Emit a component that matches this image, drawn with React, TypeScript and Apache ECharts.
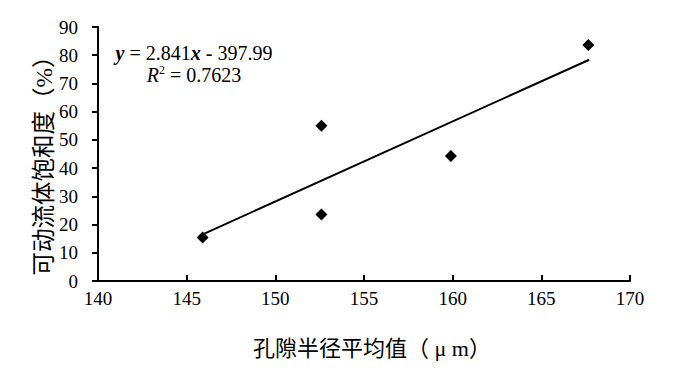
import React, { useEffect, useRef } from "react";
import * as echarts from "echarts";

const xTitle = "孔隙半径平均值（ μ m）";
const yTitle = "可动流体饱和度（%）";
const scatterX = [145.9, 152.6, 152.6, 159.9, 167.65];
const scatterY = [15.4, 55.0, 23.6, 44.3, 83.6];
const trendX = [146.0, 167.7];
const trendY = [16.8, 78.4];
const eqLine1 = ["y", " = 2.841", "x", " - 397.99"];
const eqLine2 = ["R", "2", " = 0.7623"];

const SERIF = "'Liberation Serif', 'Times New Roman', serif";
const CJK = "'Liberation Serif', 'Noto Sans CJK SC', serif";

export default function App() {
  const ref = useRef<HTMLDivElement>(null);
  useEffect(() => {
    if (!ref.current) return;
    const chart = echarts.init(ref.current, undefined, { renderer: "svg" });
    const pts = scatterX.map((x, i) => [x, scatterY[i]]);
    const trend = trendX.map((x, i) => [x, trendY[i]]);
    chart.setOption({
      animation: false,
      backgroundColor: "#ffffff",
      grid: { left: 98, right: 60, top: 27, bottom: 93 },
      xAxis: {
        type: "value",
        min: 140,
        max: 170,
        interval: 5,
        splitLine: { show: false },
        axisLine: { lineStyle: { color: "#000", width: 2 } },
        axisTick: { inside: true, length: 6, lineStyle: { color: "#000", width: 2 } },
        axisLabel: { color: "#000", fontSize: 19, fontFamily: SERIF, margin: 8 },
      },
      yAxis: {
        type: "value",
        min: 0,
        max: 90,
        interval: 10,
        splitLine: { show: false },
        axisLine: { show: true, lineStyle: { color: "#000", width: 2 } },
        axisTick: { show: true, inside: false, length: 6, lineStyle: { color: "#000", width: 2 } },
        axisLabel: { color: "#000", fontSize: 19, fontFamily: SERIF, margin: 20 },
      },
      graphic: [
        {
          type: "text",
          x: 372,
          y: 348,
          style: {
            text: xTitle,
            font: `22px ${CJK}`,
            fill: "#000",
            align: "center",
            verticalAlign: "middle",
          },
        },
        {
          type: "text",
          x: 44,
          y: 160,
          rotation: Math.PI / 2,
          style: {
            text: yTitle,
            font: `23.5px ${CJK}`,
            fill: "#000",
            align: "center",
            verticalAlign: "middle",
          },
        },
        {
          type: "text",
          x: 194,
          y: 64,
          style: {
            text:
              `{it|${eqLine1[0]}}{n|${eqLine1[1]}}{it|${eqLine1[2]}}{n|${eqLine1[3]}}\n` +
              `{ri|${eqLine2[0]}}{sup|${eqLine2[1]}}{n|${eqLine2[2]}}`,
            align: "center",
            verticalAlign: "middle",
            fill: "#000",
            lineHeight: 22,
            rich: {
              it: { fontFamily: SERIF, fontSize: 20, fontStyle: "italic", fontWeight: "bold", lineHeight: 22 },
              ri: { fontFamily: SERIF, fontSize: 20, fontStyle: "italic", lineHeight: 22 },
              n: { fontFamily: SERIF, fontSize: 20, lineHeight: 22 },
              sup: { fontFamily: SERIF, fontSize: 12, lineHeight: 22, verticalAlign: "top", padding: [0, 0, 8, 0] },
            },
          },
        },
      ],
      series: [
        {
          type: "line",
          data: trend,
          symbol: "none",
          lineStyle: { color: "#000", width: 2 },
          z: 2,
        },
        {
          type: "scatter",
          data: pts,
          symbol: "diamond",
          symbolSize: 12,
          itemStyle: { color: "#000", opacity: 1 },
          z: 3,
        },
      ],
    });
    return () => chart.dispose();
  }, []);
  return (
    <div
      ref={ref}
      style={{ position: "fixed", left: 0, top: 0, width: 690, height: 374, background: "#fff" }}
    />
  );
}
